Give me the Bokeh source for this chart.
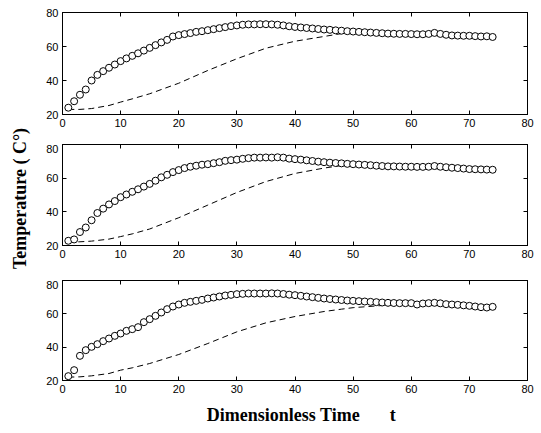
import math
from bokeh.plotting import figure
from bokeh.models import LinearAxis, Range1d, FixedTicker, Label, CustomJSTickFormatter
from bokeh.layouts import column, row
from bokeh.embed import file_html
from bokeh.resources import INLINE

t = list(range(1, 75))

temp1 = [24, 27.8, 31.6, 34.7, 40, 43.3, 45.5, 47.5, 49.4, 51.4, 53, 54.5, 56, 57.6, 59.2,
         60.8, 62.4, 63.9, 65.9, 66.7, 67.3, 67.9, 68.6, 69, 69.6, 70.2, 70.8, 71.4, 72, 72.4,
         72.8, 73, 73, 73.1, 73.1, 73, 72.8, 72.4, 71.9, 71.5, 71.2, 70.9, 70.6, 70.3, 70,
         69.8, 69.5, 69.3, 69.0, 68.8, 68.6, 68.4, 68.2, 68, 67.8, 67.6, 67.5, 67.4, 67.4, 67.3,
         67.2, 67.2, 67.4, 68, 67.4, 66.9, 66.5, 66.4, 66.3, 66.3, 66.1, 65.9, 66, 65.6]

temp2 = [22.8, 23.6, 28, 30.7, 35, 39.3, 41.9, 44.4, 46.4, 48.7, 50.3, 51.9, 53.4, 55, 56.6,
         58.5, 60.5, 62, 63.6, 64.8, 66, 66.8, 67.4, 68, 68.3, 68.9, 69.5, 70.3, 70.7, 71,
         71.5, 71.9, 72.2, 72.2, 72.3, 72.2, 72.4, 72.2, 71.6, 71.3, 71, 70.6, 70.2, 69.8, 69.5,
         69.2, 69, 68.8, 68.5, 68.3, 68.1, 67.9, 67.7, 67.4, 67.2, 67, 67, 66.9, 66.8, 66.8,
         66.7, 66.7, 66.8, 67.2, 66.8, 66.5, 66.2, 66, 65.7, 65.4, 65.3, 65.2, 65.1, 65]

temp3 = [22.6, 26.2, 34.8, 38.2, 40.2, 41.8, 43.6, 45.2, 46.8, 48.2, 49.8, 50.8, 52, 55, 56.8,
         58.8, 60.8, 62.8, 64.4, 65.6, 66.6, 67.2, 67.8, 68.4, 69.2, 69.8, 70.4, 71, 71.4, 71.8,
         72, 72.2, 72.2, 72.2, 72.2, 72.3, 72.2, 71.9, 71.5, 71.2, 70.8, 70.4, 70, 69.6, 69.2,
         68.9, 68.6, 68.3, 68, 67.8, 67.6, 67.4, 67.2, 67, 66.8, 66.6, 66.5, 66.4, 66.4, 66.4,
         65.6, 66.2, 66.4, 66.6, 66.3, 65.8, 65.6, 65.4, 65.1, 64.8, 64.4, 64, 63.8, 64.2]

t_dash = [1, 3, 5, 8, 10, 12, 15, 20, 25, 30, 35, 40, 45, 48, 50, 55, 60, 65, 70, 74]
dash1 = [23, 23, 23.5, 25.3, 27.3, 29.2, 32.2, 38.4, 45.9, 52.8, 59, 63.1, 65.9, 67.6, 68.3,
         67.9, 67.3, 67, 66.3, 65.7]
dash2 = [22, 22.2, 22.6, 23.8, 25.3, 26.9, 29.8, 36.5, 44, 51.5, 58, 62.8, 66, 67.5, 68,
         67.2, 66.7, 66.6, 65.4, 65]
dash3 = [22, 22.2, 22.8, 24.2, 26.2, 27.6, 30.2, 35.6, 42.2, 49.2, 54.6, 58.4, 61.4, 62.8, 63.7,
         65, 65.5, 65.3, 64.6, 64]

x_ticks = [0, 10, 20, 30, 40, 50, 60, 70, 80]
y_ticks = [20, 40, 60, 80]

x_label = "Dimensionless Time"
x_symbol = "t"
y_label = "Temperature ( C°)"

TICK_FONT = "Liberation Sans"
LABEL_FONT = "Liberation Serif"
STRIP_W = 32


def style_axis(ax, ticks, labels=True):
    ax.ticker = FixedTicker(ticks=ticks)
    ax.major_tick_in = 4
    ax.major_tick_out = 0
    ax.minor_tick_line_color = None
    ax.axis_line_color = "black"
    ax.major_tick_line_color = "black"
    ax.major_label_text_font = TICK_FONT
    ax.major_label_text_font_size = "11px"
    ax.major_label_text_color = "black"
    ax.major_label_standoff = 4
    if not labels:
        ax.formatter = CustomJSTickFormatter(code="return ''")
        ax.major_label_standoff = 0


def make_panel(temps, dashed, top, fh, bottom):
    p = figure(frame_width=465, frame_height=fh,
               min_border_left=62 - STRIP_W, min_border_right=14,
               min_border_top=top, min_border_bottom=bottom,
               x_range=Range1d(0, 80), y_range=Range1d(20, 80),
               toolbar_location=None, output_backend="svg",
               background_fill_color="white", border_fill_color="white")
    p.grid.visible = False
    p.outline_line_color = "black"
    style_axis(p.xaxis[0], x_ticks)
    style_axis(p.yaxis[0], y_ticks)
    ax_top = LinearAxis()
    style_axis(ax_top, x_ticks, labels=False)
    p.add_layout(ax_top, "above")
    ax_right = LinearAxis()
    style_axis(ax_right, y_ticks, labels=False)
    p.add_layout(ax_right, "right")
    p.line(t_dash, dashed, line_color="black", line_width=1, line_dash="6 4")
    p.scatter(t, temps, marker="circle", size=7, line_color="black", line_width=1,
              fill_color="white")
    return p


p1 = make_panel(temp1, dash1, 12, 102, 30)
p2 = make_panel(temp2, dash2, 0, 101, 35)
p3 = make_panel(temp3, dash3, 0, 100, 20)

# bottom strip holding the x-axis title, sharing the panels' x scale
xfig = figure(frame_width=465, frame_height=33, min_border_left=62 - STRIP_W,
              min_border_right=14, min_border_top=0, min_border_bottom=0,
              x_range=p3.x_range, y_range=Range1d(0, 33),
              x_axis_type=None, y_axis_type=None,
              toolbar_location=None, output_backend="svg",
              background_fill_color="white", border_fill_color="white")
xfig.grid.visible = False
xfig.outline_line_color = None
xfig.add_layout(Label(x=38, y=19, text=x_label, text_align="center",
                      text_baseline="middle", text_font=LABEL_FONT, text_font_style="bold",
                      text_font_size="18px", text_color="black"))
xfig.add_layout(Label(x=56.8, y=19, text=x_symbol, text_align="center",
                      text_baseline="middle", text_font=LABEL_FONT, text_font_style="bold",
                      text_font_size="18px", text_color="black"))

# left strip holding the y-axis title
yfig = figure(frame_width=STRIP_W, frame_height=433, min_border=0,
              x_range=Range1d(0, STRIP_W), y_range=Range1d(0, 433),
              x_axis_type=None, y_axis_type=None,
              toolbar_location=None, output_backend="svg",
              background_fill_color="white", border_fill_color="white")
yfig.grid.visible = False
yfig.outline_line_color = None
yfig.add_layout(Label(x=19, y=235, text=y_label, angle=math.pi / 2, text_align="center",
                      text_baseline="middle", text_font=LABEL_FONT, text_font_style="bold",
                      text_font_size="18px", text_color="black"))

layout = row(yfig, column(p1, p2, p3, xfig))
open("out.html", "w").write(file_html(layout, INLINE))
